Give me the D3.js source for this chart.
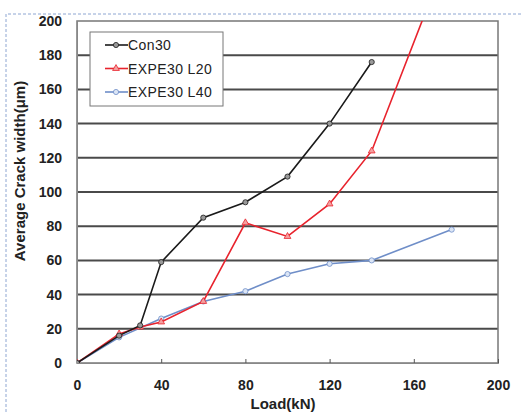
<!DOCTYPE html>
<html>
<head>
<meta charset="utf-8">
<script src="https://cdn.jsdelivr.net/npm/d3@7"></script>
<style>
  body { margin: 0; background: #fff; }
  text { font-family: Arial, "Liberation Sans", sans-serif; }
</style>
</head>
<body>
<script>
// data
var loads = [0, 20, 30, 40, 60, 80, 100, 120, 140]
var con30 = [0, 16, 22, 59, 85, 94, 109, 140, 176]
var l20Loads = [0, 20, 30, 40, 60, 80, 100, 120, 140, 180]
var l20 = [0, 17, 21, 24, 36, 82, 74, 93, 124, 251]
var l40Loads = [0, 20, 40, 60, 80, 100, 120, 140, 178]
var l40 = [0, 15, 26, 36, 42, 52, 58, 60, 78]
var xTicks = [0, 40, 80, 120, 160, 200]
var yTicks = [0, 20, 40, 60, 80, 100, 120, 140, 160, 180, 200]
var names = ["Con30", "EXPE30 L20", "EXPE30 L40"]

var width = 522
var height = 412
var margin = { top: 21, bottom: 49, left: 77, right: 24 }

var svg = d3.select("body").append("svg")
  .attr("width", width)
  .attr("height", height)

// dashed frame
svg.append("path")
  .attr("d", "M6," + height + "V14H" + width)
  .attr("fill", "none")
  .attr("stroke", "#8ea6d2")
  .attr("stroke-width", 1)
  .attr("stroke-dasharray", "3,2")

var x = d3.scaleLinear().domain([0, 200]).range([margin.left, width - margin.right])
var y = d3.scaleLinear().domain([0, 200]).range([height - margin.bottom, margin.top])

// grid lines
svg.append("g").selectAll("line")
  .data(yTicks.filter(d => d > 0 && d < 200))
  .enter().append("line")
  .attr("x1", x(0)).attr("x2", x(200))
  .attr("y1", d => y(d)).attr("y2", d => y(d))
  .attr("stroke", "#4a4a4a")
  .attr("stroke-width", 2)

// plot border
svg.append("rect")
  .attr("x", x(0)).attr("y", y(200))
  .attr("width", x(200) - x(0)).attr("height", y(0) - y(200))
  .attr("fill", "none")
  .attr("stroke", "#777")
  .attr("stroke-width", 1.5)

// axes
var ejeX = svg.append("g")
  .attr("transform", "translate(0," + y(0) + ")")
  .call(d3.axisBottom(x).tickValues(xTicks).tickSize(-4).tickPadding(17))
ejeX.select(".domain").attr("stroke", "#888")
ejeX.selectAll(".tick line").attr("stroke", "#555")
ejeX.selectAll("text").attr("font-size", 14).attr("font-weight", "bold").attr("fill", "#222")

var ejeY = svg.append("g")
  .attr("transform", "translate(" + x(0) + ",0)")
  .call(d3.axisLeft(y).tickValues(yTicks).tickSize(0).tickPadding(15))
ejeY.select(".domain").attr("stroke", "#888")
ejeY.selectAll("text").attr("font-size", 14).attr("font-weight", "bold").attr("fill", "#222")

// axis titles
svg.append("text")
  .attr("text-anchor", "middle")
  .attr("x", 283).attr("y", 409)
  .attr("font-size", 15).attr("font-weight", "bold").attr("fill", "#222")
  .text("Load(kN)")

svg.append("text")
  .attr("text-anchor", "middle")
  .attr("transform", "translate(25,171) rotate(-90)")
  .attr("font-size", 15).attr("font-weight", "bold").attr("fill", "#222")
  .text("Average Crack width(μm)")

// series
svg.append("clipPath").attr("id", "clip")
  .append("rect")
  .attr("x", x(0)).attr("y", y(200))
  .attr("width", x(200) - x(0)).attr("height", y(0) - y(200))

var series = [
  { name: names[0], xs: loads, ys: con30, color: "#1a1a1a", mark: "circle", fill: "#999" },
  { name: names[1], xs: l20Loads, ys: l20, color: "#e8232d", mark: "triangle", fill: "#f4a0a0" },
  { name: names[2], xs: l40Loads, ys: l40, color: "#6f8ec8", mark: "circle", fill: "#dbe5f5" }
]

var linea = d3.line().x(d => x(d[0])).y(d => y(d[1]))
var plot = svg.append("g").attr("clip-path", "url(#clip)")

function marker(g, s) {
  if (s.mark == "triangle") {
    g.append("path").attr("d", d3.symbol(d3.symbolTriangle, 20)())
  } else {
    g.append("circle").attr("r", 2.6)
  }
  g.attr("fill", s.fill).attr("stroke", s.color).attr("stroke-width", 0.8)
}

series.slice().reverse().forEach(function (s) {
  var pts = s.xs.map((v, i) => [v, s.ys[i]])
  plot.append("path")
    .datum(pts)
    .attr("d", linea)
    .attr("fill", "none")
    .attr("stroke", s.color)
    .attr("stroke-width", 1.6)
  plot.selectAll(null)
    .data(pts)
    .enter().append("g")
    .attr("transform", d => "translate(" + x(d[0]) + "," + y(d[1]) + ")")
    .each(function () { marker(d3.select(this), s) })
})

// legend
var legend = svg.append("g")
legend.append("rect")
  .attr("x", 90).attr("y", 32)
  .attr("width", 133).attr("height", 74)
  .attr("fill", "#fff")
  .attr("stroke", "#777")
  .attr("stroke-width", 1)

series.forEach(function (s, i) {
  var yy = 45 + i * 23.5
  legend.append("line")
    .attr("x1", 105).attr("x2", 128)
    .attr("y1", yy).attr("y2", yy)
    .attr("stroke", s.color).attr("stroke-width", 1.6)
  var g = legend.append("g").attr("transform", "translate(116," + yy + ")")
  marker(g, s)
  legend.append("text")
    .attr("x", 128).attr("y", yy + 5)
    .attr("font-size", 14)
    .attr("fill", "#222")
    .attr("letter-spacing", 0.4)
    .text(s.name)
})
</script>
</body>
</html>
